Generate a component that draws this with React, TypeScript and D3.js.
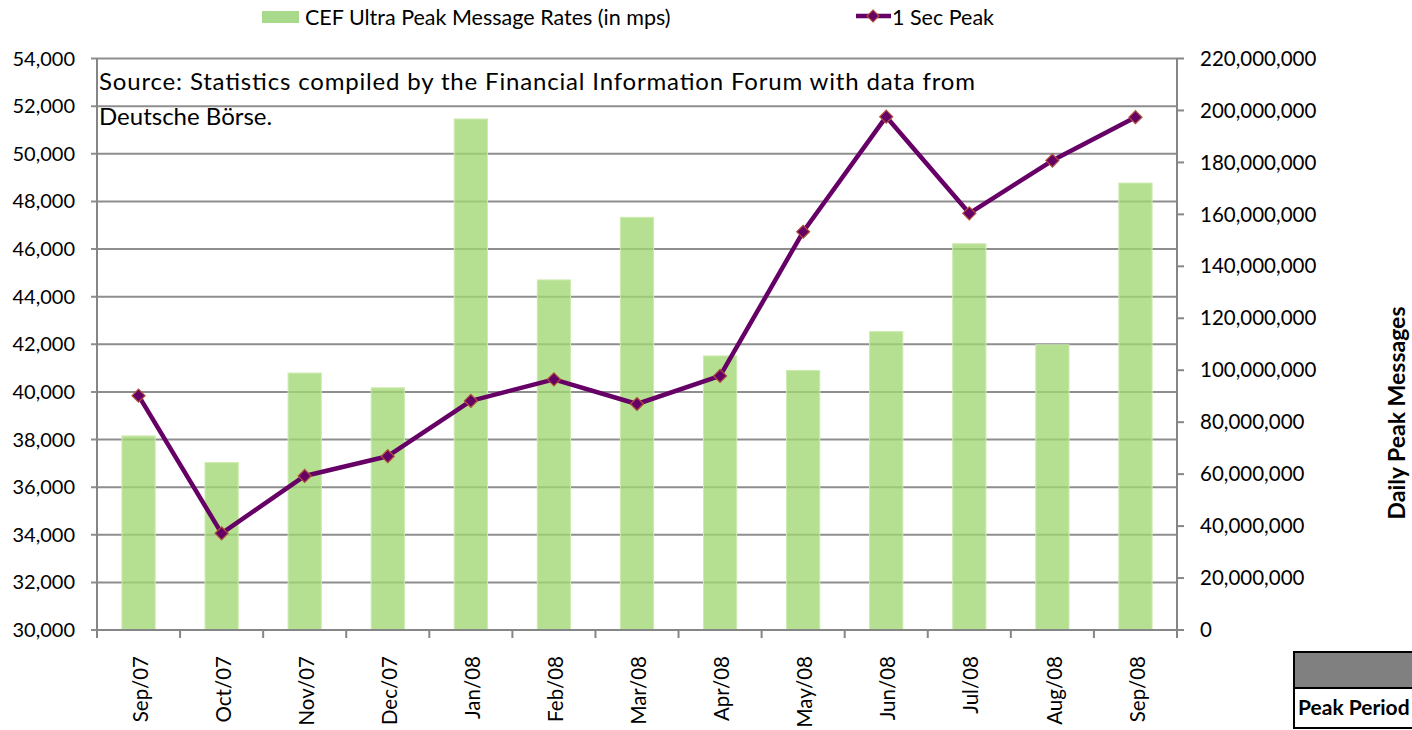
import React from 'react'
import * as d3 from 'd3'

const months = ['Sep/07', 'Oct/07', 'Nov/07', 'Dec/07', 'Jan/08', 'Feb/08', 'Mar/08', 'Apr/08', 'May/08', 'Jun/08', 'Jul/08', 'Aug/08', 'Sep/08']
// CEF Ultra peak message rates (mps), left axis
const mpsRates = [38150, 37030, 40790, 40170, 51460, 44700, 47330, 41510, 40900, 42530, 46220, 41975, 48770]
// 1 sec peak, right axis (daily peak messages)
const secPeak = [90200000, 37200000, 59300000, 66900000, 88200000, 96500000, 87000000, 97800000, 153300000, 197600000, 160400000, 180700000, 197400000]
const leftTicks = d3.range(30000, 54001, 2000)
const rightTicks = d3.range(0, 220000001, 20000000)

const FONT = 'Lato, "Open Sans", sans-serif'
const fmt = d3.format(',')

const App = () => {
  const left = 97
  const right = 1177
  const top = 58.5
  const bottom = 630

  const x = d3.scaleBand<string>().domain(months).range([left, right]).paddingInner(0.6).paddingOuter(0.3)
  const yL = d3.scaleLinear().domain([30000, 54000]).range([bottom, top])
  const yR = d3.scaleLinear().domain([0, 220000000]).range([bottom, top])
  const cx = (m: string) => (x(m) ?? 0) + x.bandwidth() / 2
  const step = (right - left) / months.length

  const line = d3
    .line<number>()
    .x((d, i) => cx(months[i]))
    .y((d) => yR(d))

  const diamond = (px: number, py: number, r: number) =>
    `M${px},${py - r}L${px + r},${py}L${px},${py + r}L${px - r},${py}Z`

  return (
    <svg width={1412} height={730} style={{ position: 'absolute', left: 0, top: 0 }} fontFamily={FONT}>
      <rect width={1412} height={730} fill="#fff" />

      {/* gridlines */}
      {leftTicks.map((t) => (
        <line key={t} x1={left - 6} x2={right} y1={yL(t)} y2={yL(t)} stroke="#8e8e8e" strokeWidth={2} />
      ))}

      {/* bars */}
      {months.map((m, i) => (
        <rect
          key={m}
          x={x(m)}
          y={yL(mpsRates[i])}
          width={x.bandwidth()}
          height={bottom - yL(mpsRates[i])}
          fill="#a2d772"
          fillOpacity={0.78}
          stroke="#cdeab0"
          strokeWidth={1}
        />
      ))}

      {/* axes */}
      <line x1={left} x2={left} y1={top} y2={bottom} stroke="#868686" strokeWidth={2} />
      <line x1={right} x2={right} y1={top} y2={bottom} stroke="#868686" strokeWidth={2} />
      <line x1={left} x2={right} y1={bottom} y2={bottom} stroke="#868686" strokeWidth={2} />
      {d3.range(months.length + 1).map((i) => (
        <line key={i} x1={left + i * step} x2={left + i * step} y1={bottom} y2={bottom + 8} stroke="#868686" strokeWidth={2} />
      ))}
      {rightTicks.map((t) => (
        <line key={t} x1={right} x2={right + 7} y1={yR(t)} y2={yR(t)} stroke="#868686" strokeWidth={2} />
      ))}

      {leftTicks.map((t) => (
        <text key={t} x={75} y={yL(t)} dy="0.35em" textAnchor="end" fontSize={20} fill="#000">
          {fmt(t)}
        </text>
      ))}
      {rightTicks.map((t) => (
        <text key={t} x={1200} y={yR(t)} dy="0.35em" textAnchor="start" fontSize={20.5} fill="#000">
          {fmt(t)}
        </text>
      ))}
      {months.map((m) => (
        <text
          key={m}
          transform={`translate(${cx(m) + 2},${bottom + 26}) rotate(-90)`}
          dy="0.35em"
          textAnchor="end"
          fontSize={20.5}
          fill="#000"
        >
          {m}
        </text>
      ))}

      <text transform="translate(1398,413) rotate(-90)" dy="0.3em" textAnchor="middle" fontSize={23} fontWeight="bold" fill="#000">
        Daily Peak Messages
      </text>

      {/* line series */}
      <path d={line(secPeak) ?? ''} fill="none" stroke="#660066" strokeWidth={4.5} strokeLinejoin="round" />
      {secPeak.map((v, i) => (
        <path key={i} d={diamond(cx(months[i]), yR(v), 6.5)} fill="#660066" stroke="#b0503a" strokeWidth={1.2} />
      ))}

      {/* source note */}
      <text x={99} y={90} fontSize={24} fill="#000" textLength={876} lengthAdjust="spacing">
        Source: Statistics compiled by the Financial Information Forum with data from
      </text>
      <text x={99} y={125} fontSize={24} fill="#000">
        Deutsche Börse.
      </text>

      {/* legend */}
      <rect x={262} y={11} width={37} height={12} fill="#a9d98a" />
      <text x={305} y={17} dy="0.35em" fontSize={21.5} fill="#000">
        CEF Ultra Peak Message Rates (in mps)
      </text>
      <line x1={856} x2={891} y1={16} y2={16} stroke="#660066" strokeWidth={4.5} />
      <path d={diamond(873, 16, 6)} fill="#660066" stroke="#b0503a" strokeWidth={1.2} />
      <text x={892} y={17} dy="0.35em" fontSize={21.5} fill="#000">
        1 Sec Peak
      </text>

      {/* table fragment */}
      <rect x={1294} y={652} width={130} height={36} fill="#808080" stroke="#000" strokeWidth={2} />
      <rect x={1294} y={688} width={130} height={40} fill="#fff" stroke="#000" strokeWidth={2} />
      <text x={1298} y={708} dy="0.35em" fontSize={21} fontWeight="bold" fill="#000">
        Peak Period
      </text>
    </svg>
  )
}

export default App
